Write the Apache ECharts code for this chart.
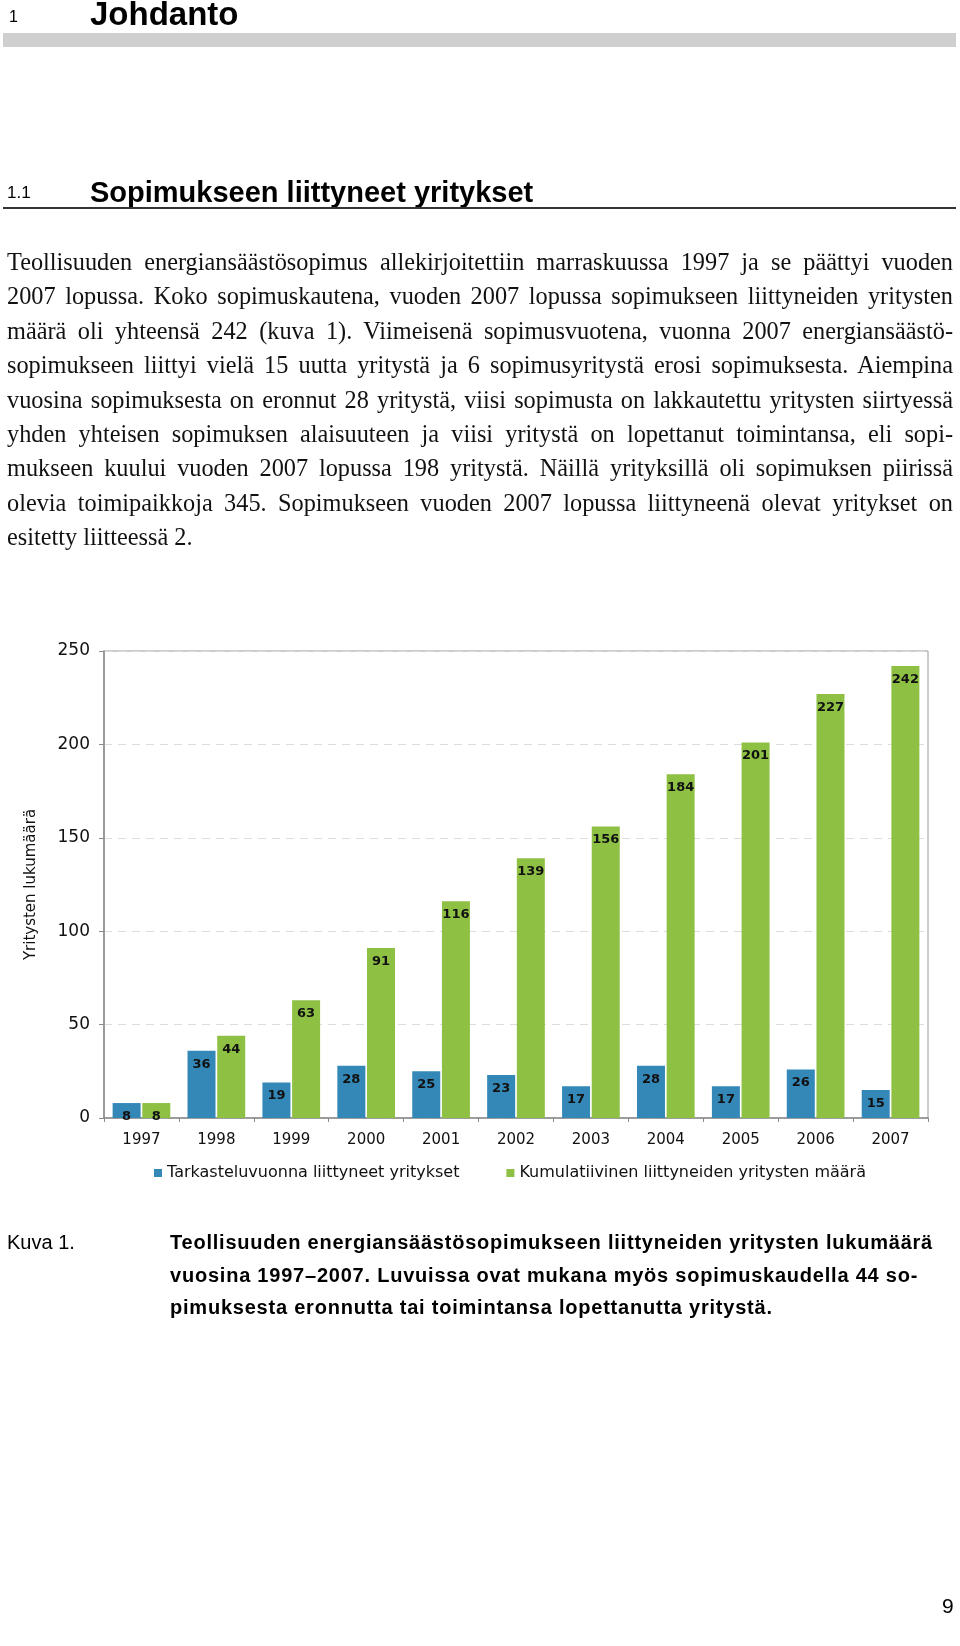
<!DOCTYPE html>
<html>
<head>
<meta charset="utf-8">
<script src="https://cdn.jsdelivr.net/npm/echarts@6/dist/echarts.min.js"></script>
<style>
  html, body { margin:0; padding:0; background:#fff; }
  #page { position:relative; width:960px; height:1646px; overflow:hidden; }
  #chart { position:absolute; left:0; top:0; width:960px; height:1646px; }
  .abs { position:absolute; white-space:nowrap; color:#000; }
  .h { font-family:"Liberation Sans", Arial, sans-serif; }
  .bodyline { position:absolute; left:7px; width:946px; white-space:nowrap;
              font-family:"Liberation Serif", "DejaVu Serif", serif; font-size:24.3px; line-height:34px; color:#111; }
  .cap { font-family:"Liberation Sans", Arial, sans-serif; font-size:20px; line-height:32.6px; color:#000; }
</style>
</head>
<body>
<div id="page">
  <div id="chart"></div>

  <div class="abs h" style="left:9px; top:6px; font-size:16px; line-height:22px;">1</div>
  <div class="abs h" style="left:90px; top:-5px; font-size:33px; line-height:38px; font-weight:bold;">Johdanto</div>
  <div style="position:absolute; left:3px; top:33px; width:953px; height:14px; background:#cfcfcf;"></div>

  <div class="abs h" style="left:7px; top:182px; font-size:17px; line-height:22px;">1.1</div>
  <div class="abs h" style="left:90px; top:174px; font-size:29px; line-height:36px; font-weight:bold;">Sopimukseen liittyneet yritykset</div>
  <div style="position:absolute; left:3px; top:207px; width:953px; height:2px; background:#333;"></div>

  <div id="body"></div>

  <div class="abs cap" style="left:7px; top:1226px;">Kuva 1.</div>
  <div class="abs cap" id="capblock" style="left:170px; top:1226px; font-weight:bold; letter-spacing:0.78px;"></div>

  <div class="abs h" style="left:942px; top:1594px; font-size:21px; line-height:24px;">9</div>
</div>

<script>
// ---- data ----
const years = ['1997','1998','1999','2000','2001','2002','2003','2004','2005','2006','2007'];
const joinedInYear = [8, 36, 19, 28, 25, 23, 17, 28, 17, 26, 15];
const cumulative = [8, 44, 63, 91, 116, 139, 156, 184, 201, 227, 242];
const seriesNames = ['Tarkasteluvuonna liittyneet yritykset', 'Kumulatiivinen liittyneiden yritysten määrä'];
const yAxisName = 'Yritysten lukumäärä';

const bodyLines = [
  'Teollisuuden energiansäästösopimus allekirjoitettiin marraskuussa 1997 ja se päättyi vuoden',
  '2007 lopussa. Koko sopimuskautena, vuoden 2007 lopussa sopimukseen liittyneiden yritysten',
  'määrä oli yhteensä 242 (kuva 1). Viimeisenä sopimusvuotena, vuonna 2007 energiansäästö-',
  'sopimukseen liittyi vielä 15 uutta yritystä ja 6 sopimusyritystä erosi sopimuksesta. Aiempina',
  'vuosina sopimuksesta on eronnut 28 yritystä, viisi sopimusta on lakkautettu yritysten siirtyessä',
  'yhden yhteisen sopimuksen alaisuuteen ja viisi yritystä on lopettanut toimintansa, eli sopi-',
  'mukseen kuului vuoden 2007 lopussa 198 yritystä. Näillä yrityksillä oli sopimuksen piirissä',
  'olevia toimipaikkoja 345. Sopimukseen vuoden 2007 lopussa liittyneenä olevat yritykset on',
  'esitetty liitteessä 2.'
];
const captionLines = [
  'Teollisuuden energiansäästösopimukseen liittyneiden yritysten lukumäärä',
  'vuosina 1997–2007. Luvuissa ovat mukana myös sopimuskaudella 44 so-',
  'pimuksesta eronnutta tai toimintansa lopettanutta yritystä.'
];

// ---- body text (justified by word-spacing) ----
const body = document.getElementById('body');
bodyLines.forEach((t, i) => {
  const d = document.createElement('div');
  d.className = 'bodyline';
  d.style.top = (245 + i * 34.4) + 'px';
  const s = document.createElement('span');
  s.textContent = t;
  d.appendChild(s);
  body.appendChild(d);
  if (i < bodyLines.length - 1) {
    const natural = s.getBoundingClientRect().width;
    const spaces = (t.match(/ /g) || []).length;
    if (spaces > 0) s.style.wordSpacing = ((946 - natural) / spaces) + 'px';
  }
});
const cap = document.getElementById('capblock');
cap.innerHTML = captionLines.map(l => '<div>' + l + '</div>').join('');

// ---- chart ----
const chart = echarts.init(document.getElementById('chart'), null, { renderer: 'canvas' });
const font = '"DejaVu Sans", Verdana, sans-serif';
const labelCfg = {
  show: true, position: 'insideTop', distance: 7,
  fontFamily: font, fontWeight: 'bold', fontSize: 13, color: '#111'
};
chart.setOption({
  animation: false,
  grid: {
    left: 104, right: 32, top: 651, bottom: 528,
    show: true, borderColor: '#9a9a9a', borderWidth: 1, backgroundColor: 'transparent'
  },
  legend: {
    left: 154, top: 1165, padding: 0,
    itemWidth: 8, itemHeight: 8, itemGap: 47,
    icon: 'rect',
    textStyle: { fontFamily: font, fontSize: 16, color: '#111' },
    data: seriesNames
  },
  xAxis: {
    type: 'category',
    data: years,
    axisLine: { lineStyle: { color: '#8a8a8a', width: 1.5 } },
    axisTick: { show: true, length: 4, lineStyle: { color: '#8a8a8a' } },
    axisLabel: { fontFamily: font, fontSize: 15, color: '#111', margin: 15 }
  },
  yAxis: {
    type: 'value', min: 0, max: 250, interval: 50,
    name: yAxisName, nameLocation: 'middle', nameGap: 65, nameRotate: 90,
    nameTextStyle: { fontFamily: font, fontSize: 15, color: '#111' },
    axisLine: { show: true, lineStyle: { color: '#8a8a8a', width: 1.5 } },
    axisTick: { show: true, length: 5, lineStyle: { color: '#8a8a8a' } },
    axisLabel: { fontFamily: font, fontSize: 17, color: '#111', margin: 14 },
    splitLine: { show: true, lineStyle: { color: '#dcdcdc', type: [8, 6] } }
  },
  series: [
    {
      name: seriesNames[0], type: 'bar', data: joinedInYear,
      barWidth: 28, barGap: '6%',
      itemStyle: { color: '#3488b8' },
      label: labelCfg
    },
    {
      name: seriesNames[1], type: 'bar', data: cumulative,
      barWidth: 28,
      itemStyle: { color: '#8ec044' },
      label: labelCfg
    }
  ]
});
</script>
</body>
</html>
